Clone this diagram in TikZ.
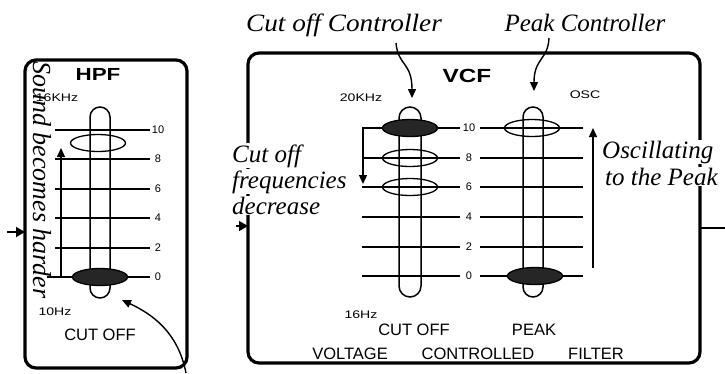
\documentclass[tikz,border=0pt]{standalone}
\usepackage{fontspec}
\setmainfont{Liberation Serif}
\setsansfont{Liberation Sans}
\newfontfamily\widesans[FakeStretch=1.28]{Liberation Sans}
\usetikzlibrary{arrows.meta,shapes.geometric}
\begin{document}
\begin{tikzpicture}[x=1pt,y=-1pt,
  frame/.style={draw, line width=3.2pt, rounded corners=11pt, inner sep=0pt, outer sep=0pt},
  track/.style={draw, line width=1.5pt, inner sep=0pt, outer sep=0pt},
  tick/.style={line width=1.6pt},
  knob/.style={draw, ellipse, line width=1.3pt, minimum width=55pt, minimum height=17pt, inner sep=0pt},
  knobon/.style={knob, fill=black!85},
  note/.style={font=\itshape\fontsize{25}{25}\selectfont, inner sep=1pt},
  capt/.style={font=\sffamily\fontsize{16.5}{16.5}\selectfont, inner sep=0pt},
  small/.style={font=\widesans\fontsize{11}{11}\selectfont, inner sep=0pt},
  num/.style={font=\sffamily\fontsize{11}{11}\selectfont, inner sep=0pt},
  ttl/.style={inner sep=0pt},
  arr/.style={-{Triangle[length=9pt,width=8pt]}, line width=1.4pt},
  thinline/.style={line width=1.3pt}
]
\useasboundingbox (0,0) rectangle (725,373);

% frames
\node[frame, minimum width=162pt, minimum height=308pt] (hpf) at (106,214) {};
\node[frame, minimum width=452pt, minimum height=310pt] (vcf) at (474,208) {};

% input / output connectors
\coordinate (hin) at (7,232);
\draw[arr, -{Triangle[length=9pt,width=10pt]}] (hin) -- (hin -| hpf.west);
\coordinate (vin) at (236,226);
\draw[arr, -{Triangle[length=9pt,width=10pt]}] (vin) -- (vin -| vcf.west);
\coordinate (vout) at (725,228);
\draw[thinline] (vout -| vcf.east) -- (vout);

% small labels
\node[small] (f16k) at (57,98) {16KHz};
\node[small] (f10) at (55,312) {10Hz};
\node[small] (f20k) at (361,98) {20KHz};
\node[small] (f16) at (361,315) {16Hz};
\node[small] (osc) at (585,95) {OSC};

% titles and captions
\node[ttl, font=\widesans\bfseries\fontsize{17.5}{17.5}\selectfont] (hpft) at (98,74) {HPF};
\node[ttl, font=\widesans\bfseries\fontsize{19}{19}\selectfont] (vcft) at (467,76) {VCF};
\node[capt] (hcut) at (100,335) {CUT OFF};
\node[capt] (vcut) at (414,330) {CUT OFF};
\node[capt] (peak) at (534,330) {PEAK};
\node[capt] (vo) at (350,354) {VOLTAGE};
\node[capt] (co) at (478,354) {CONTROLLED};
\node[capt] (fi) at (596,354) {FILTER};

% annotations
\node[note, font=\itshape\fontsize{26}{26}\selectfont, rotate=-90, anchor=base west] (snd) at (33,60) {Sound becomes harder};
\node[note, fill=white, anchor=base west] (n1) at (231,162) {Cut off};
\node[note, fill=white, anchor=base west] (n2) at (231,188) {frequencies};
\node[note, fill=white, anchor=base west] (n3) at (231,214) {decrease};
\node[note, fill=white, anchor=base west] (o1) at (601,158) {Oscillating};
\node[note, fill=white, anchor=base west] (o2) at (604,185) {to the Peak};
\node[note, anchor=base] (cc) at (344,31) {\scalebox{1.09}[1]{Cut off Controller}};
\node[note, anchor=base] (pc) at (585,31) {Peak Controller};

% HPF slider
\node[track, minimum width=20pt, minimum height=191pt, rounded corners=10pt] (ht) at (100,202.5) {};
\foreach \v/\yy in {0/277,2/248,4/218,6/189,8/159,10/130}{
  \coordinate (ha\v) at (55,\yy);
  \coordinate (hb\v) at (150,\yy);
  \draw[tick] (ha\v) -- (hb\v);
  \node[num] (hl\v) at (158,\yy) {\v};
}
\coordinate (hx) at (47,277);
\draw[tick] (hx) -- (ha0);
\coordinate (hbr0) at (61,277);
\coordinate (hbr1) at (61,148);
\draw[arr, line width=1.3pt] (hbr0) -- (hbr1);
\node[knob] (hk1) at (98,143) {};
\node[knobon] (hk2) at (100,277) {};

% VCF sliders
\node[track, minimum width=22pt, minimum height=190pt, rounded corners=11pt] (ct) at (410,202) {};
\node[track, minimum width=20pt, minimum height=190pt, rounded corners=10pt] (pt) at (533,202) {};
\foreach \v/\yy in {0/276,2/247,4/217,6/187,8/158,10/128}{
  \coordinate (ca\v) at (362,\yy);
  \coordinate (cb\v) at (460,\yy);
  \coordinate (pa\v) at (480,\yy);
  \coordinate (pb\v) at (583,\yy);
  \draw[tick] (ca\v) -- (cb\v);
  \draw[tick] (pa\v) -- (pb\v);
  \node[num] (vl\v) at (469,\yy) {\v};
}
\node[knobon] (ck1) at (410,128) {};
\node[knob] (ck2) at (410,158) {};
\node[knob] (ck3) at (410,187) {};
\node[knob] (pk1) at (532,128) {};
\node[knobon] (pk2) at (535,276) {};

% brackets
\coordinate (cbr0) at (363,128);
\coordinate (cbr1) at (363,184);
\draw[arr, line width=1.3pt] (cbr0) -- (cbr1);
\coordinate (pbr0) at (593,268);
\coordinate (pbr1) at (593,128);
\draw[arr, line width=1.3pt] (pbr0) -- (pbr1);

% controller arrows
\coordinate (ccs) at (396,43);
\coordinate (cce) at (412,98);
\draw[arr] (ccs) .. controls (398,66) and (412,62) .. (cce);
\coordinate (pcs) at (549,38);
\coordinate (pce) at (534,91);
\draw[arr] (pcs) .. controls (548,60) and (534,58) .. (pce);
\coordinate (hcs) at (186,373);
\coordinate (hce) at (122,300);
\draw[arr] (hcs) .. controls (178,332) and (152,314) .. (hce);
\end{tikzpicture}
\end{document}
